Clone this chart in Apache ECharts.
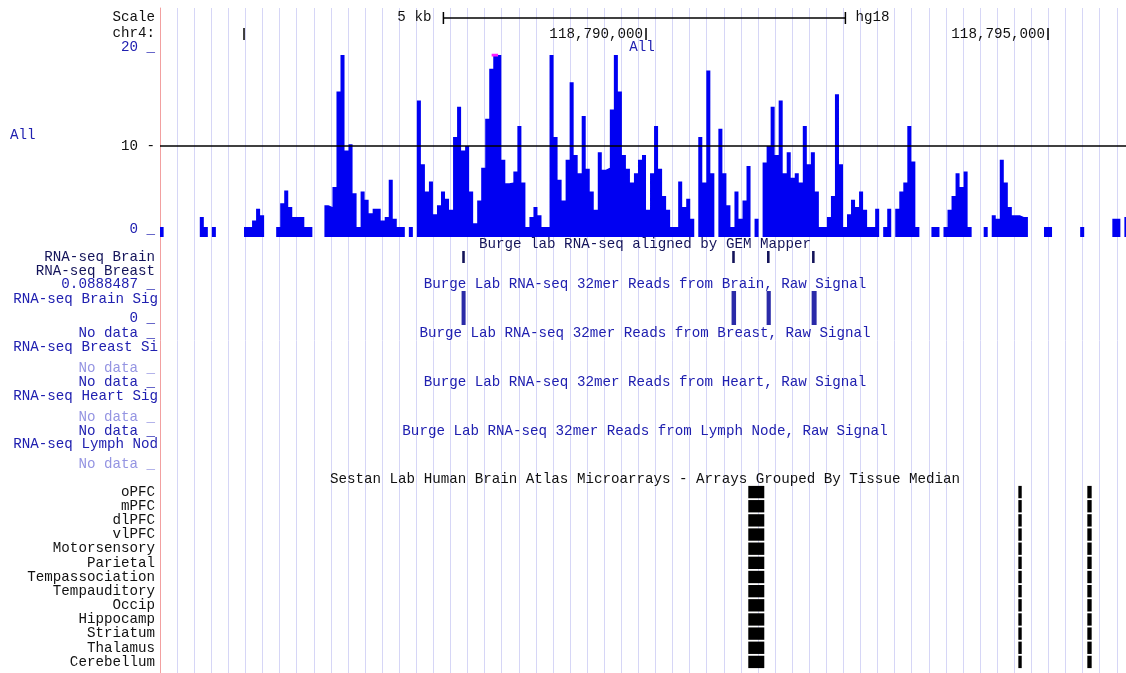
<!DOCTYPE html>
<html><head><meta charset="utf-8">
<script src="https://cdn.jsdelivr.net/npm/echarts@6/dist/echarts.min.js"></script>
<style>html,body{margin:0;padding:0;background:#fff}#c{width:1126px;height:673px}</style>
</head><body><div id="c"></div>
<script>
// ---------------- data ----------------
const chromName = 'chr4:';
const assembly = 'hg18';
const viewStart = 118783955, viewEnd = 118795970;
const binStart = 118783950, binSize = 50;
// "All" RNA-seq coverage, one value per 50 bp bin
const allSignal = [
 1.1,0,0,0,0,0,0,0,0,0,
 2.2,1.1,0,1.1,0,0,0,0,0,0,
 0,1.1,1.1,1.8,3.1,2.4,0,0,0,1.1,
 3.7,5.1,3.3,2.2,2.2,2.2,1.1,1.1,0,0,
 0,3.5,3.3,5.5,16,20,9.5,10.2,4.8,1.1,
 5,4.1,2.6,3.1,3.1,1.8,2.2,6.3,2,1.1,
 1.1,0,1.1,0,15,8,5,6.1,2.5,3.5,
 5,4.2,3,11,14.3,9.5,10,5,1.5,4,
 7.6,13,18.5,20,20,8.5,5.9,6,7.2,12.2,
 6,1.1,2.2,3.3,2.4,1.1,1.1,20,11,6.3,
 4,8.5,17,9,7,13.3,7.5,5,3,9.3,
 7.4,7.6,14,20,16,9,7.5,6,7,8.5,
 9,3,7,12.2,7.5,4.5,3,1.1,1.1,6.1,
 3.3,4.2,2,0,11,6,18.3,7,0,11.9,
 7,3.5,1.1,5,2,4,7.8,0,2,0,
 8.2,10,14.3,9,15,7,9.3,6.5,7,6,
 12.2,8,9.3,5,1.1,1.1,2.2,4.5,15.7,8,
 1.1,2.5,4.1,3.3,5,3,1.1,1.1,3.1,0,
 1.1,3.1,0,3.1,5,6,12.2,8.3,1.1,0,
 0,0,1.1,1.1,0,1.1,3,4.5,7,5.5,
 7.2,1.1,0,0,0,1.1,0,2.4,2,8.5,
 6,3.3,2.4,2.4,2.2,2.2,0,0,0,0,
 1.1,1.1,0,0,0,0,0,0,0,1.1,
 0,0,0,0,0,0,0,2,2,0,
 2.2,2.2
];
const allMax = 20;
const clippedRanges = [[118788080, 118788160]];
const positionTicks = [118785000, 118790000, 118795000];
const scaleBar = [118787480, 118792480];
const scaleLabel = '5 kb';
const gemReads = [118787714, 118791072, 118791505, 118792065];
const readLength = 32;
const brainSignal = [
 [118787706, 118787756, 0.0888487],
 [118791064, 118791120, 0.0888487],
 [118791500, 118791552, 0.0888487],
 [118792060, 118792122, 0.0888487]
];
const brainSignalMax = 0.0888487;
const tissues = ['oPFC','mPFC','dlPFC','vlPFC','Motorsensory','Parietal','Tempassociation','Tempauditory','Occip','Hippocamp','Striatum','Thalamus','Cerebellum'];
const arrayProbes = [[118791272, 118791471], [118794631, 118794673], [118795489, 118795543]];
const tissueMedians = [
 [1,1,1],[1,1,1],[1,1,1],[1,1,1],[1,1,1],[1,1,1],[1,1,1],
 [1,1,1],[1,1,1],[1,1,1],[1,1,1],[1,1,1],[1,1,1]
];

// ---------------- styling ----------------
const FONT = '"Liberation Mono", "DejaVu Sans Mono", monospace';
const FS = 14.2;
const BLUE = '#2020b0', LIGHT = '#9494e2', BLACK = '#111111', NAVY = '#14145a';
const LEFT = 160;
const W = 1126;
const guideSpacingPx = 17.085;

const chart = echarts.init(document.getElementById('c'), null, {renderer: 'canvas'});

function gx(gridIndex) {
  return {gridIndex, type: 'value', min: viewStart, max: viewEnd, show: false};
}
function hiddenY(gridIndex, min, max) {
  return {gridIndex, type: 'value', min, max, show: false};
}

const allData = allSignal.map((v, i) => [binStart + i * binSize, v]);
allData.push([binStart + allSignal.length * binSize, 0]);
const clipData = [];
clippedRanges.forEach(([s, e]) => { clipData.push([s, allMax], [e, allMax], '-'); });

const readsData = gemReads.map(s => [s, s + readLength, 1]);
const arrayData = [];
tissueMedians.forEach((row, ti) => row.forEach((v, pi) => {
  arrayData.push([arrayProbes[pi][0], arrayProbes[pi][1], ti, v]);
}));

function rectRender(minW) {
  return function (params, api) {
    const p0 = api.coord([api.value(0), api.value(2)]);
    const p1 = api.coord([api.value(1), 0]);
    const w = Math.max(p1[0] - p0[0], minW);
    return {type: 'rect', shape: {x: p0[0], y: p0[1], width: w, height: p1[1] - p0[1]}, style: api.style()};
  };
}

function fmtPos(v) { return v.toLocaleString('en-US'); }

function txt(x, y, text, color, align) {
  return {type: 'text', x, y, z: 50, silent: true,
    style: {text, fill: color, fontFamily: FONT, fontSize: FS, align: align || 'right', verticalAlign: 'middle'}};
}

const CX = 645;
const graphics = [
  txt(155, 17, 'Scale', BLACK),
  txt(155, 33, chromName, BLACK),
  txt(10, 135, 'All', BLUE, 'left'),
  txt(CX - 3, 47, 'All', BLUE, 'center'),
  txt(155, 257, 'RNA-seq Brain', NAVY),
  txt(155, 271.5, 'RNA-seq Breast', NAVY),
  txt(158, 299.5, 'RNA-seq Brain Sig', BLUE),
  txt(155, 333.5, 'No data _', BLUE),
  txt(158, 347.5, 'RNA-seq Breast Si', BLUE),
  txt(155, 368, 'No data _', LIGHT),
  txt(155, 382.5, 'No data _', BLUE),
  txt(158, 396.5, 'RNA-seq Heart Sig', BLUE),
  txt(155, 417, 'No data _', LIGHT),
  txt(155, 431, 'No data _', BLUE),
  txt(158, 444, 'RNA-seq Lymph Nod', BLUE),
  txt(155, 464.5, 'No data _', LIGHT),
  txt(CX, 244, 'Burge lab RNA-seq aligned by GEM Mapper', NAVY, 'center'),
  txt(CX, 284.5, 'Burge Lab RNA-seq 32mer Reads from Brain, Raw Signal', BLUE, 'center'),
  txt(CX, 333.5, 'Burge Lab RNA-seq 32mer Reads from Breast, Raw Signal', BLUE, 'center'),
  txt(CX, 382.5, 'Burge Lab RNA-seq 32mer Reads from Heart, Raw Signal', BLUE, 'center'),
  txt(CX, 431.5, 'Burge Lab RNA-seq 32mer Reads from Lymph Node, Raw Signal', BLUE, 'center'),
  txt(CX, 479, 'Sestan Lab Human Brain Atlas Microarrays - Arrays Grouped By Tissue Median', BLACK, 'center')
];

const option = {
  animation: false,
  backgroundColor: '#ffffff',
  textStyle: {fontFamily: FONT},
  graphic: graphics,
  grid: [
    {left: LEFT, right: 0, top: 8, bottom: 0},
    {left: LEFT, right: 0, top: 10, height: 32},
    {left: LEFT, right: 0, top: 55, height: 182},
    {left: LEFT, right: 0, top: 251, height: 12},
    {left: LEFT, right: 0, top: 291, height: 34},
    {left: LEFT, right: 0, top: 485, height: 184}
  ],
  xAxis: [
    {gridIndex: 0, type: 'value', min: 0, max: (W - LEFT) / guideSpacingPx, interval: 1,
     axisLine: {show: false}, axisTick: {show: false}, axisLabel: {show: false},
     splitLine: {show: true, lineStyle: {color: '#d6d6f6', width: 1}}},
    gx(1), gx(2), gx(3), gx(4), gx(5)
  ],
  yAxis: [
    {gridIndex: 0, type: 'value', min: 0, max: 1, axisLine: {show: true, lineStyle: {color: '#f2a0a0', width: 1}},
     axisTick: {show: false}, axisLabel: {show: false}, splitLine: {show: false}},
    hiddenY(1, 0, 2),
    {gridIndex: 2, type: 'value', min: 0, max: allMax, interval: 10,
     axisLine: {show: false}, axisTick: {show: false}, splitLine: {show: false},
     axisLabel: {show: true, margin: 5, showMinLabel: true, showMaxLabel: true,
       formatter: v => v === 10 ? '{k|10 -}' : '{b|' + v + ' _}',
       rich: {
         b: {color: BLUE, fontFamily: FONT, fontSize: FS, padding: [0, 0, 15, 0]},
         k: {color: BLACK, fontFamily: FONT, fontSize: FS}
       }}},
    hiddenY(3, 0, 1),
    {gridIndex: 4, type: 'value', min: 0, max: brainSignalMax, interval: brainSignalMax,
     axisLine: {show: false}, axisTick: {show: false}, splitLine: {show: false},
     axisLabel: {show: true, margin: 5, showMinLabel: true, showMaxLabel: true,
       formatter: v => '{b|' + (v > 0 ? brainSignalMax : 0) + ' _}',
       rich: {b: {color: BLUE, fontFamily: FONT, fontSize: FS, padding: [0, 0, 13, 0]}}}},
    {gridIndex: 5, type: 'category', data: tissues, inverse: true,
     axisLine: {show: false}, axisTick: {show: false}, splitLine: {show: false},
     axisLabel: {show: true, margin: 5, color: BLACK, fontFamily: FONT, fontSize: FS, interval: 0}}
  ],
  series: [
    {type: 'custom', xAxisIndex: 1, yAxisIndex: 1, silent: true, data: [[scaleBar[0], scaleBar[1]]],
     renderItem: (params, api) => {
       const a = api.coord([api.value(0), 1.5]), b = api.coord([api.value(1), 1.5]);
       const st = {stroke: '#000', lineWidth: 1.5};
       return {type: 'group', children: [
         {type: 'line', shape: {x1: a[0], y1: a[1], x2: b[0], y2: b[1]}, style: st},
         {type: 'line', shape: {x1: a[0], y1: a[1] - 6, x2: a[0], y2: a[1] + 6}, style: st},
         {type: 'line', shape: {x1: b[0], y1: b[1] - 6, x2: b[0], y2: b[1] + 6}, style: st},
         {type: 'text', x: a[0] - 12, y: a[1] - 1, style: {text: scaleLabel, fill: BLACK, fontFamily: FONT, fontSize: FS, align: 'right', verticalAlign: 'middle'}},
         {type: 'text', x: b[0] + 10, y: b[1] - 1, style: {text: assembly, fill: BLACK, fontFamily: FONT, fontSize: FS, align: 'left', verticalAlign: 'middle'}}
       ]};
     }},
    {type: 'custom', xAxisIndex: 1, yAxisIndex: 1, silent: true, data: positionTicks.map(v => [v]),
     renderItem: (params, api) => {
       const p = api.coord([api.value(0), 0.5]);
       const label = fmtPos(api.value(0));
       const children = [{type: 'line', shape: {x1: p[0], y1: p[1] - 6, x2: p[0], y2: p[1] + 6}, style: {stroke: '#000', lineWidth: 1.5}}];
       if (p[0] - 3 - label.length * 8.5 > LEFT) {
         children.push({type: 'text', x: p[0] - 3, y: p[1], style: {text: label, fill: BLACK, fontFamily: FONT, fontSize: FS, align: 'right', verticalAlign: 'middle'}});
       }
       return {type: 'group', children};
     }},
    {type: 'line', xAxisIndex: 2, yAxisIndex: 2, data: allData, step: 'end', symbol: 'none', silent: true,
     lineStyle: {width: 0, opacity: 0}, areaStyle: {color: '#0000f2', opacity: 1},
     markLine: {silent: true, symbol: 'none', label: {show: false},
       lineStyle: {color: '#000', width: 1.5, type: 'solid'}, data: [{yAxis: 10}]}},
    {type: 'line', xAxisIndex: 2, yAxisIndex: 2, data: clipData, symbol: 'none', silent: true,
     lineStyle: {color: '#ff20ff', width: 3}},
    {type: 'custom', xAxisIndex: 3, yAxisIndex: 3, silent: true, data: readsData,
     itemStyle: {color: NAVY}, renderItem: rectRender(2)},
    {type: 'custom', xAxisIndex: 4, yAxisIndex: 4, silent: true, data: brainSignal,
     itemStyle: {color: '#2a2aa8'}, renderItem: rectRender(3)},
    {type: 'custom', xAxisIndex: 5, yAxisIndex: 5, silent: true, data: arrayData,
     renderItem: (params, api) => {
       const a = api.coord([api.value(0), api.value(2)]);
       const b = api.coord([api.value(1), api.value(2)]);
       const band = api.size([0, 1])[1];
       const h = band - 1.8;
       const v = api.value(3);
       const g = Math.round(255 * (1 - v));
       return {type: 'rect', shape: {x: a[0], y: a[1] - h / 2, width: Math.max(b[0] - a[0], 3), height: h},
         style: {fill: 'rgb(' + g + ',' + g + ',' + g + ')'}};
     }}
  ]
};
chart.setOption(option);
</script>
</body></html>
